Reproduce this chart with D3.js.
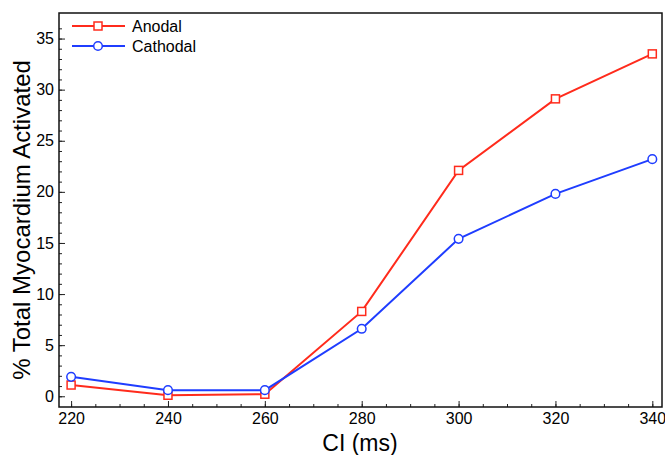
<!DOCTYPE html>
<html>
<head>
<meta charset="utf-8">
<script src="https://cdn.jsdelivr.net/npm/d3@7"></script>
<style>
  body { margin: 0; background: #fff; }
  text { font-family: "Liberation Sans", Arial, sans-serif; }
</style>
</head>
<body>
<svg id="chart" width="665" height="455"></svg>
<script>
// data
const ciValues = [220, 240, 260, 280, 300, 320, 340];
const anodal = [1.1, 0.1, 0.2, 8.3, 22.1, 29.1, 33.5];
const cathodal = [1.9, 0.6, 0.6, 6.6, 15.4, 19.8, 23.2];
const xTicks = [220, 240, 260, 280, 300, 320, 340];
const yTicks = [0, 5, 10, 15, 20, 25, 30, 35];
const seriesNames = ['Anodal', 'Cathodal'];

const svg = d3.select('#chart');
const m = { left: 59, top: 13, right: 3, bottom: 48 };
const W = 665, H = 455;

const x = d3.scaleLinear().domain([217.5, 342]).range([m.left, W - m.right]);
const y = d3.scaleLinear().domain([-1.05, 37.5]).range([H - m.bottom, m.top]);

const red = '#ff2b1c', blue = '#1f3dff';

// ticks (pointing inward)
const bottom = H - m.bottom;
svg.append('g').attr('transform', `translate(0,${bottom})`)
  .call(d3.axisBottom(x).tickValues(d3.range(220, 341, 5)).tickSize(-3).tickFormat(''))
  .call(g => g.select('.domain').remove());
svg.append('g').attr('transform', `translate(0,${bottom})`)
  .call(d3.axisBottom(x).tickValues(xTicks).tickSize(-6).tickPadding(6).tickFormat(d3.format('d')))
  .call(g => g.select('.domain').remove())
  .call(g => g.selectAll('text').attr('font-size', 16).attr('fill', '#000'));

svg.append('g').attr('transform', `translate(${m.left},0)`)
  .call(d3.axisLeft(y).tickValues(d3.range(0, 37, 1)).tickSize(-3).tickFormat(''))
  .call(g => g.select('.domain').remove());
svg.append('g').attr('transform', `translate(${m.left},0)`)
  .call(d3.axisLeft(y).tickValues(yTicks).tickSize(-6).tickPadding(5).tickFormat(d3.format('d')))
  .call(g => g.select('.domain').remove())
  .call(g => g.selectAll('text').attr('font-size', 16).attr('fill', '#000'));

svg.selectAll('.tick line').attr('stroke', '#222').attr('stroke-width', 1);

// frame
svg.append('rect')
  .attr('x', m.left).attr('y', m.top)
  .attr('width', W - m.right - m.left).attr('height', bottom - m.top)
  .attr('fill', 'none').attr('stroke', '#111').attr('stroke-width', 1.5);

const line = d3.line().x((d, i) => x(ciValues[i])).y(d => y(d));

function drawSeries(vals, color, shape) {
  svg.append('path').datum(vals)
    .attr('d', line).attr('fill', 'none')
    .attr('stroke', color).attr('stroke-width', 2);
  const g = svg.append('g');
  vals.forEach((v, i) => {
    if (shape === 'square') {
      g.append('rect').attr('x', x(ciValues[i]) - 4).attr('y', y(v) - 4)
        .attr('width', 8).attr('height', 8)
        .attr('fill', '#fff').attr('stroke', color).attr('stroke-width', 1.5);
    } else {
      g.append('circle').attr('cx', x(ciValues[i])).attr('cy', y(v)).attr('r', 4.3)
        .attr('fill', '#fff').attr('stroke', color).attr('stroke-width', 1.5);
    }
  });
}
drawSeries(anodal, red, 'square');
drawSeries(cathodal, blue, 'circle');

// legend
const legend = svg.append('g');
[[red, 'square'], [blue, 'circle']].forEach(([c, s], i) => {
  const ly = 26 + i * 20;
  legend.append('line').attr('x1', 72).attr('x2', 125).attr('y1', ly).attr('y2', ly)
    .attr('stroke', c).attr('stroke-width', 2);
  if (s === 'square') {
    legend.append('rect').attr('x', 94).attr('y', ly - 4).attr('width', 8).attr('height', 8)
      .attr('fill', '#fff').attr('stroke', c).attr('stroke-width', 1.5);
  } else {
    legend.append('circle').attr('cx', 98).attr('cy', ly).attr('r', 4.3)
      .attr('fill', '#fff').attr('stroke', c).attr('stroke-width', 1.5);
  }
  legend.append('text').attr('x', 132).attr('y', ly + 6).attr('font-size', 16)
    .text(seriesNames[i]);
});

// axis titles
svg.append('text').attr('x', 360).attr('y', 451)
  .attr('text-anchor', 'middle').attr('font-size', 23).text('CI (ms)');
svg.append('text')
  .attr('transform', `translate(30,220) rotate(-90)`)
  .attr('text-anchor', 'middle').attr('font-size', 24).text('% Total Myocardium Activated');
</script>
</body>
</html>
